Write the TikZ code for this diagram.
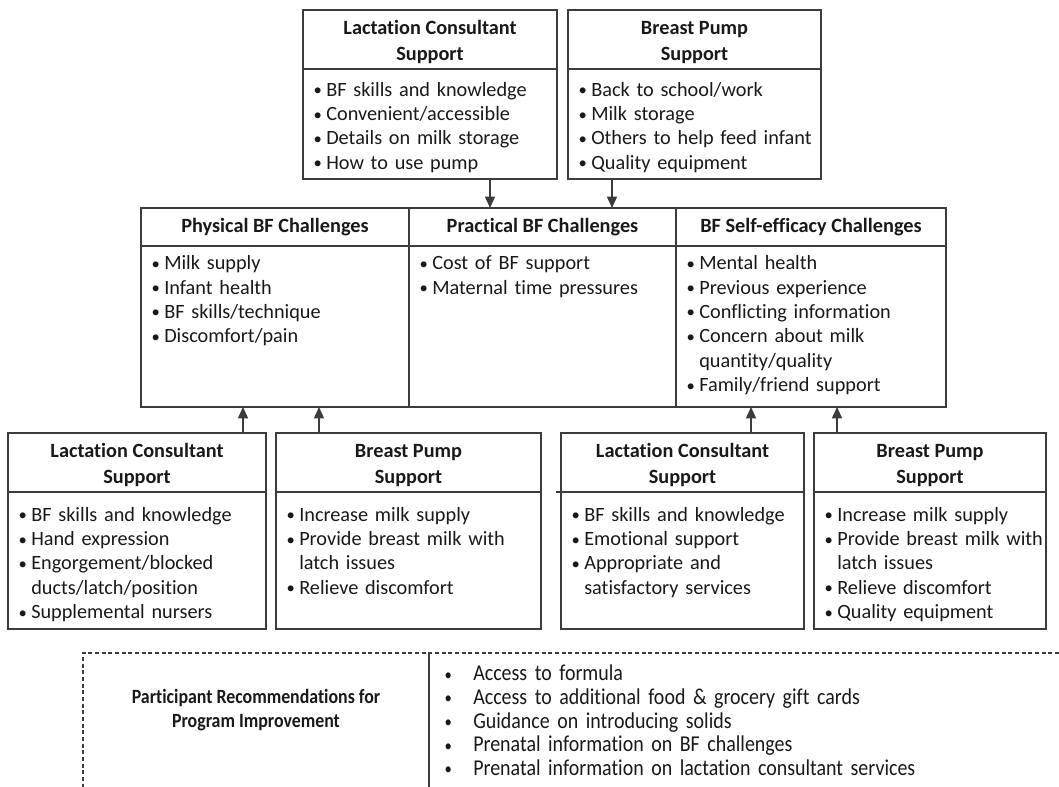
\documentclass[tikz,border=0pt]{standalone}
\usepackage{fontspec}
\setmainfont{Carlito}[Ligatures=NoCommon]
\newfontfamily\condfont{Carlito}[FakeStretch=0.88,Ligatures=NoCommon]
\usetikzlibrary{arrows.meta}
\definecolor{lc}{RGB}{60,60,60}
\definecolor{tc}{RGB}{25,25,25}
\newcommand\bul{\raisebox{0.4pt}{\fontsize{12.5pt}{12pt}\selectfont\textbullet}}
\newcommand\itm[1]{\par\hangindent=10.5pt\hangafter=1\noindent\makebox[10.5pt][l]{\rule{0pt}{12pt}\hspace{1pt}\bul}#1\par}
\newcommand\ritm[1]{\par\noindent\makebox[22.5pt][l]{\rule{0pt}{12pt}\hspace{1pt}\bul}#1\par}
\tikzset{
  box/.style={draw=lc, line width=1.1pt, inner sep=0pt, outer sep=0pt, anchor=north west},
  divline/.style={draw=lc, line width=1.1pt},
  hdr/.style={anchor=north, inner sep=0pt, align=center, text=tc,
    font={\bfseries\fontsize{15.2pt}{20pt}\selectfont}},
  bodytext/.style={anchor=north west, inner sep=0pt, text width=#1, align=left, text=tc,
    font={\fontsize{15.2pt}{18.3pt}\selectfont}},
  arr/.style={draw=lc, line width=1.1pt, -{Triangle[width=7.5pt,length=8.5pt]}},
  rectext/.style={anchor=north west, inner sep=0pt, text width=460pt, align=left, text=tc,
    font={\condfont\fontsize{17pt}{17.7pt}\selectfont}},
  rectitle/.style={anchor=north, inner sep=0pt, align=center, text=tc,
    font={\condfont\bfseries\fontsize{15.2pt}{18pt}\selectfont}},
  dashframe/.style={draw=lc, line width=0.8pt, dash pattern=on 3pt off 2pt},
  solidsep/.style={draw=lc, line width=0.9pt}
}
% name, x1, y1, x2, y2, ydiv
\newcommand\mybox[6]{%
  \node[box, minimum width={(#4-#2)*0.75pt}, minimum height={(#5-#3)*0.75pt}] (#1) at (#2,#3) {};
  \draw[divline] (#2,#6) -- (#4,#6);
}
\begin{document}
\begin{tikzpicture}[x=0.75pt,y=-0.75pt]
\useasboundingbox (0,0) rectangle (1059,787);
% ---------- top row ----------
\mybox{LCt}{303}{10}{557}{179}{69}
\mybox{BPt}{568}{10}{821}{179}{69}
\node[hdr] (LCth) at (430,18) {\rule{0pt}{12pt}Lactation Consultant\\Support};
\node[hdr] (BPth) at (694.5,18) {\rule{0pt}{12pt}Breast Pump\\Support};
\node[bodytext=240pt] (LCtb) at (312,71.5) {\itm{BF skills and knowledge}\itm{Convenient/accessible}\itm{Details on milk storage}\itm{How to use pump}};
\node[bodytext=240pt] (BPtb) at (577,71.5) {\itm{Back to school/work}\itm{Milk storage}\itm{Others to help feed infant}\itm{Quality equipment}};
% ---------- middle row ----------
\mybox{Phys}{141}{208}{409}{407}{246}
\mybox{Prac}{409}{208}{676}{407}{246}
\mybox{Self}{676}{208}{946}{407}{246}
\node[hdr] (Physh) at (275,216.5) {\rule{0pt}{12pt}Physical BF Challenges};
\node[hdr] (Prach) at (542.5,216.5) {\rule{0pt}{12pt}Practical BF Challenges};
\node[hdr] (Selfh) at (811,216.5) {\rule{0pt}{12pt}BF Self-efficacy Challenges};
\node[bodytext=240pt] (Physb) at (150,245) {\itm{Milk supply}\itm{Infant health}\itm{BF skills/technique}\itm{Discomfort/pain}};
\node[bodytext=240pt] (Pracb) at (418,245) {\itm{Cost of BF support}\itm{Maternal time pressures}};
\node[bodytext=240pt] (Selfb) at (685,245) {\itm{Mental health}\itm{Previous experience}\itm{Conflicting information}\itm{Concern about milk\newline quantity/quality}\itm{Family/friend support}};
% ---------- bottom row ----------
\mybox{LCl}{8}{433}{266}{629}{492}
\mybox{BPl}{276}{433}{541}{629}{492}
\mybox{LCr}{561}{433}{804}{629}{492}
\draw[divline] (556,492) -- (561,492);
\mybox{BPr}{814}{433}{1046}{629}{492}
\node[hdr] (LClh) at (137,441) {\rule{0pt}{12pt}Lactation Consultant\\Support};
\node[hdr] (BPlh) at (408.5,441) {\rule{0pt}{12pt}Breast Pump\\Support};
\node[hdr] (LCrh) at (682.5,441) {\rule{0pt}{12pt}Lactation Consultant\\Support};
\node[hdr] (BPrh) at (930,441) {\rule{0pt}{12pt}Breast Pump\\Support};
\node[bodytext=240pt] (LClb) at (17,496.5) {\itm{BF skills and knowledge}\itm{Hand expression}\itm{Engorgement/blocked\newline ducts/latch/position}\itm{Supplemental nursers}};
\node[bodytext=240pt] (BPlb) at (285,496.5) {\itm{Increase milk supply}\itm{Provide breast milk with\newline latch issues}\itm{Relieve discomfort}};
\node[bodytext=240pt] (LCrb) at (570,496.5) {\itm{BF skills and knowledge}\itm{Emotional support}\itm{Appropriate and\newline satisfactory services}};
\node[bodytext=240pt] (BPrb) at (823,496.5) {\itm{Increase milk supply}\itm{Provide breast milk with\newline latch issues}\itm{Relieve discomfort}\itm{Quality equipment}};
% ---------- arrows ----------
\coordinate (a1) at (490,0);
\coordinate (a2) at (612,0);
\coordinate (a3) at (243,0);
\coordinate (a4) at (319,0);
\coordinate (a5) at (751,0);
\coordinate (a6) at (837,0);
\draw[arr] (LCt.south -| a1) -- (Prac.north -| a1);
\draw[arr] (BPt.south -| a2) -- (Prac.north -| a2);
\draw[arr] (LCl.north -| a3) -- (Phys.south -| a3);
\draw[arr] (BPl.north -| a4) -- (Phys.south -| a4);
\draw[arr] (LCr.north -| a5) -- (Self.south -| a5);
\draw[arr] (BPr.north -| a6) -- (Self.south -| a6);
% ---------- recommendations ----------
\draw[dashframe] (1059,653) -| (83,787);
\draw[solidsep] (429,653) -- (429,787);
\node[rectitle] (rect) at (256,687) {\rule{0pt}{12pt}Participant Recommendations for\\Program Improvement};
\node[rectext] (recb) at (443,657) {\ritm{Access to formula}\ritm{Access to additional food \& grocery gift cards}\ritm{Guidance on introducing solids}\ritm{Prenatal information on BF challenges}\ritm{Prenatal information on lactation consultant services}};
\end{tikzpicture}
\end{document}
